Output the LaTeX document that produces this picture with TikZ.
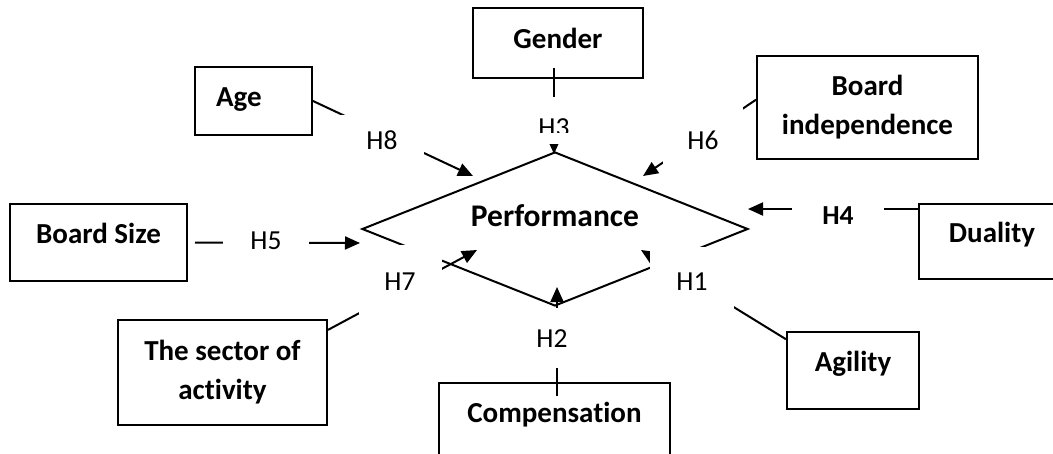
\documentclass[tikz,border=0pt]{standalone}
\usepackage{fontspec}
\setmainfont{Carlito}[Ligatures=NoCommon]
\usetikzlibrary{arrows.meta}
\usetikzlibrary{shapes.geometric}

\begin{document}
\begin{tikzpicture}[x=1pt, y=-1pt,
    varbox/.style={draw, line width=2pt, inner sep=0pt, align=center,
      font=\bfseries\fontsize{29}{39}\selectfont},
    onebox/.style={varbox, text height=10pt, text depth=9pt},
    hyp/.style={fill=white, inner sep=0pt, text height=18pt, text depth=0pt,
      font=\fontsize{27.5}{33}\selectfont},
    hyparrow/.style={line width=2pt, -{Triangle[length=15pt,width=13pt]}},
    perfshape/.style={diamond, draw, line width=2pt, aspect=2.5, inner sep=0pt,
      minimum width=386, minimum height=154, text height=20pt, text depth=26pt,
      font=\bfseries\fontsize{31.5}{38}\selectfont}]

      % page frame
      \useasboundingbox (0,0) rectangle (1053,453);
      \clip (0,0) rectangle (1053,453);

      % write the variables in boxes
      \node[onebox, minimum width=117, minimum height=68, text depth=0pt,
            text width=75pt, align=left] (age) at (253.5,101) {Age};
      \node[onebox, minimum width=170, minimum height=70, text depth=0pt] (gender) at (558,43) {Gender};
      \node[varbox, minimum width=221, minimum height=103] (bindep) at (867.5,107.5) {Board\\independence};
      \node[onebox, minimum width=177, minimum height=77] (bsize) at (98.5,242.5) {Board Size};
      \node[onebox, minimum width=146, minimum height=75] (duality) at (992,241.5) {Duality};
      \node[varbox, minimum width=209, minimum height=105] (sector) at (222.5,372.5) {The sector of\\activity};
      \node[onebox, minimum width=132, minimum height=77] (agility) at (853,370.5) {Agility};
      \node[onebox, minimum width=231, minimum height=100, text depth=31pt] (comp) at (554.5,433) {Compensation};

      % performance in the middle
      \node[perfshape] (perf) at (555,229) {Performance};

      % arrow ends near the diamond
      \coordinate (h8tip) at (473,176);
      \coordinate (h3tip) at (554,154);
      \coordinate (h6tip) at (643,176);
      \coordinate (h5tip) at (360,243);
      \coordinate (h4tip) at (748,209);
      \coordinate (h7tip) at (477,250);
      \coordinate (h1tip) at (641,250);
      \coordinate (h2tip) at (557,287);

      % hypotheses arrows
      \draw[hyparrow] (age.east) -- (h8tip);
      \draw[hyparrow, shorten <=-11pt] (gender.south -| h3tip) -- (h3tip);
      \draw[hyparrow] (bindep.176) -- (h6tip);
      \draw[hyparrow, shorten <=7pt] (bsize.east) -- (h5tip);
      \draw[hyparrow] (duality.west |- h4tip) -- (h4tip);
      \draw[hyparrow] (sector.22) -- (h7tip);
      \draw[hyparrow] (agility.155) -- (h1tip);
      \draw[hyparrow, shorten <=-14pt] (comp.north -| h2tip) -- (h2tip);

      % write H1..H8 on the arrows
      \node[hyp, minimum width=84, minimum height=50] (h8) at (382,140) {H8};
      \node[hyp, minimum width=60, minimum height=47] (h3) at (554,120.5) {};
      \begin{scope}
        \clip (520,90) rectangle (590,132);
        \node[hyp] (h3txt) at (554,127.5) {H3};
      \end{scope}
      \node[hyp, minimum width=80, minimum height=70] (h6) at (703,140) {H6};
      \node[hyp, minimum width=86, minimum height=40] (h5) at (266,240) {H5};
      \node[hyp, minimum width=92, minimum height=40,
            font=\bfseries\fontsize{27.5}{33}\selectfont] (h4) at (838,215) {H4};
      \node[hyp, minimum width=83, minimum height=72] (h7) at (400,281) {H7};
      \node[hyp, minimum width=84, minimum height=68] (h1) at (692,281) {H1};
      \node[hyp, minimum width=70, minimum height=60] (h2) at (552,338) {H2};
\end{tikzpicture}
\end{document}
